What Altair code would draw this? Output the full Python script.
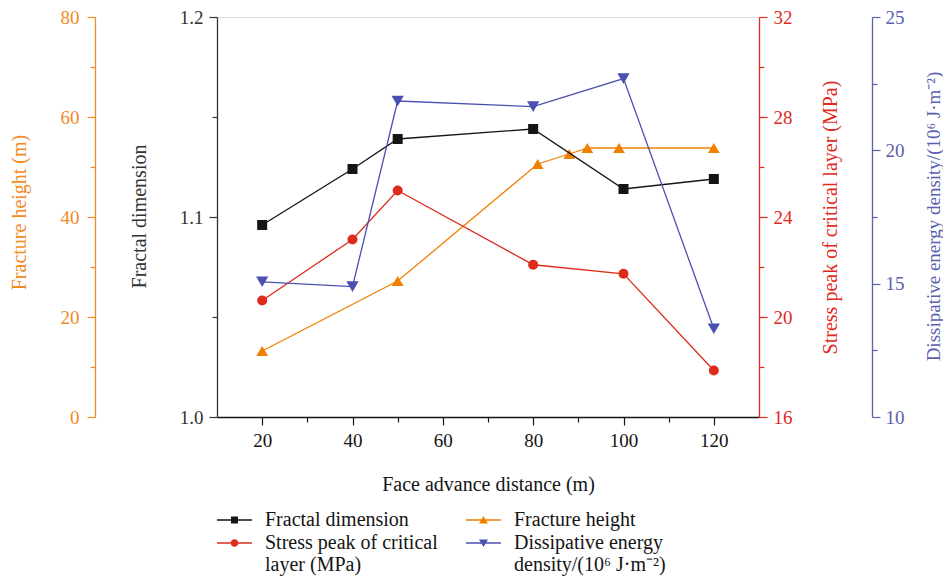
import altair as alt
import pandas as pd

# ---------------- data ----------------
x_fd = [20, 40, 50, 80, 100, 120]
fractal_dim = [1.096, 1.124, 1.139, 1.144, 1.114, 1.119]

x_sp = [20, 40, 50, 80, 100, 120]
stress_peak = [20.66, 23.1, 25.06, 22.09, 21.73, 17.86]

x_fh = [20, 50, 81, 88, 92, 99, 120]
fracture_h = [13.2, 27.2, 50.6, 52.6, 53.8, 53.8, 53.8]

x_de = [20, 40, 50, 80, 100, 120]
diss_energy = [15.07, 14.89, 21.85, 21.64, 22.69, 13.31]

# legend order (filled column by column)
series_names = [
    "Fractal dimension",
    "Stress peak of critical layer (MPa)",
    "Fracture height",
    "Dissipative energy density/(10⁶ J·m⁻²)",
]

x_ticks = [20, 30, 40, 50, 60, 70, 80, 90, 100, 110, 120]
fd_ticks = [1.0, 1.05, 1.1, 1.15, 1.2]
fh_ticks = [0, 10, 20, 30, 40, 50, 60, 70, 80]
sp_ticks = [16, 18, 20, 22, 24, 26, 28, 30, 32]
de_ticks = [10, 12.5, 15, 17.5, 20, 22.5, 25]

# ---------------- style ----------------
FONT = "Liberation Serif"
W, H = 542, 400
BLACK = "#141414"
ORANGE = "#F08000"
ORANGE_AX = "#F28A1E"
RED = "#DD2C1C"
RED_AX = "#E02A1E"
BLUE = "#4A50B0"
BLUE_AX = "#5A60B0"
FS = 19
TFS = 20

x_axis = alt.Axis(
    values=x_ticks,
    labelExpr="datum.value % 20 == 0 ? datum.label : ''",
    tickSize={"condition": {"test": "datum.value % 20 == 0", "value": 8}, "value": 5},
    tickColor=BLACK, domainColor=BLACK, labelColor=BLACK, titleColor=BLACK,
    domainWidth=1.3, tickWidth=1.2, grid=False,
    labelFont=FONT, labelFontSize=FS, labelPadding=6,
    title="Face advance distance (m)", titleFont=FONT, titleFontSize=TFS,
    titleFontWeight="normal", titleX=W / 2, titleY=67, titleBaseline="middle",
    titleAlign="center",
)
x_scale = alt.Scale(domain=[10, 130], nice=False, zero=False)


def y_axis(values, test, fmt, color, orient, offset, title, title_x, title_y, pad, tfs=TFS):
    return alt.Axis(
        orient=orient, offset=offset, values=values, format=fmt,
        labelExpr=f"({test}) ? datum.label : ''",
        tickSize={"condition": {"test": test, "value": 8}, "value": 5},
        tickColor=color, domainColor=color, labelColor=color, titleColor=color,
        domainWidth=1.3, tickWidth=1.2, grid=False,
        labelFont=FONT, labelFontSize=FS, labelPadding=pad,
        title=title, titleFont=FONT, titleFontSize=tfs, titleFontWeight="normal",
        titleAngle=270, titleX=title_x, titleY=title_y, titleAlign="center",
        titleBaseline="middle",
    )


def series(xs, ys, color, shape, size, domain, axis):
    df = pd.DataFrame({"x": xs, "y": ys})
    base = alt.Chart(df).encode(
        x=alt.X("x:Q", scale=x_scale, axis=x_axis),
        y=alt.Y("y:Q", scale=alt.Scale(domain=domain, nice=False, zero=False), axis=axis),
    )
    line = base.mark_line(color=color, strokeWidth=1.3)
    pts = base.mark_point(shape=shape, size=size, filled=True, color=color, opacity=1)
    return alt.layer(line, pts)


fh_axis = y_axis(fh_ticks, "datum.value % 20 == 0", "d", ORANGE_AX, "left", 122,
                 "Fracture height (m)", -75.5, 195, 8)
fd_axis = y_axis(fd_ticks, "abs(datum.value * 10 - round(datum.value * 10)) < 0.001",
                 ".1f", "#333333", "left", 0, "Fractal dimension", -77.5, 199, 6)
sp_axis = y_axis(sp_ticks, "datum.value % 4 == 0", "d", RED_AX, "right", 0,
                 "Stress peak of critical layer (MPa)", 71, 200, 6)
de_axis = y_axis(de_ticks, "datum.value % 5 == 0", "d", BLUE_AX, "right", 113,
                 "Dissipative energy density/(10⁶ J·m⁻²)", 61, 199, 5, tfs=19)

s_fh = series(x_fh, fracture_h, ORANGE, "triangle-up", 140, [0, 80], fh_axis)
s_fd = series(x_fd, fractal_dim, BLACK, "square", 100, [1.0, 1.2], fd_axis)
s_sp = series(x_sp, stress_peak, RED, "circle", 100, [16, 32], sp_axis)
s_de = series(x_de, diss_energy, BLUE, "triangle-down", 150, [10, 25], de_axis)

# ---------------- legend (line + marker symbols) ----------------
# symbol unit = 10 px; path spans x in [-1, 2.5] -> a 35 px line with centred marker
LINE = "M-1,-0.07H2.5V0.07H-1Z "
legend_paths = [
    LINE + "M0.4,-0.35H1.1V0.35H0.4Z",
    LINE + "M1.13,0A0.38,0.38 0 1,1 0.37,0A0.38,0.38 0 1,1 1.13,0Z",
    LINE + "M0.75,-0.4L1.2,0.35L0.3,0.35Z",
    LINE + "M0.75,0.4L0.3,-0.35L1.2,-0.35Z",
]
legend_colors = [BLACK, RED, ORANGE, BLUE]

label_expr = (
    "datum.label == 'Stress peak of critical layer (MPa)' ? "
    "['Stress peak of critical', 'layer (MPa)'] : "
    "datum.label == 'Dissipative energy density/(10⁶ J·m⁻²)' ? "
    "['Dissipative energy', 'density/(10⁶ J·m⁻²)'] : datum.label"
)
legend = alt.Legend(
    title=None, orient="none", legendX=0, legendY=493, columns=2,
    symbolSize=400, symbolStrokeWidth=0, labelFont=FONT, labelFontSize=TFS,
    labelColor=BLACK, labelOffset=28, labelLimit=400, columnPadding=28,
    rowPadding=3, labelExpr=label_expr, labelBaseline="middle",
)
leg_df = pd.DataFrame({"series": series_names})
legend_layer = alt.Chart(leg_df).mark_point(filled=True, opacity=1).encode(
    color=alt.Color("series:N", scale=alt.Scale(domain=series_names, range=legend_colors),
                    legend=legend),
    shape=alt.Shape("series:N", scale=alt.Scale(domain=series_names, range=legend_paths),
                    legend=legend),
).transform_filter("datum.series == 'none'")

chart = (
    alt.layer(s_fh, s_fd, s_sp, s_de, legend_layer)
    .resolve_scale(y="independent")
    .resolve_axis(y="independent")
    .properties(
        width=W, height=H,
        autosize=alt.AutoSizeParams(type="none"),
        padding={"left": 209, "top": 9, "right": 184, "bottom": 159},
        background="white",
    )
    .configure_view(stroke=None)
    .configure(font=FONT)
)

chart.save("out.html", embed_options={"renderer": "svg", "actions": False})
